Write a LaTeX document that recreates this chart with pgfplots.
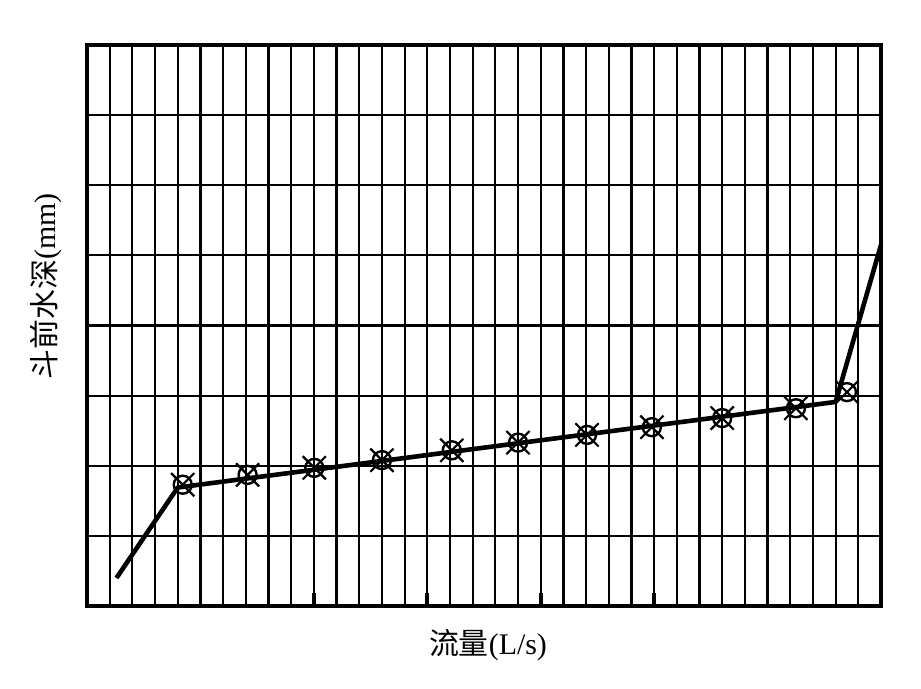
\documentclass[border=0pt]{standalone}
\usepackage{pgfplots}
\pgfplotsset{compat=1.18}
\usepackage{fontspec}
\setmainfont{Liberation Serif}
\newfontfamily\cjk{Noto Sans CJK SC}
\begin{document}
\begin{tikzpicture}
\useasboundingbox (0,0) rectangle (460.5bp,344.5bp);
\begin{axis}[
  at={(43.5bp,41.5bp)}, anchor=south west,
  scale only axis, width=397bp, height=280.5bp,
  xmin=0, xmax=35, ymin=0, ymax=8,
  xtick={0,5,...,35}, minor x tick num=4,
  xticklabels={}, yticklabels={},
  ytick={1,...,7},
  xmajorgrids, xminorgrids, ymajorgrids,
  grid style={black, line width=1.1bp},
  minor grid style={black, line width=1.1bp},
  tick align=inside, xtick pos=bottom, ytick pos=left,
  major tick length=6.5bp, minor tick length=0pt,
  xtick style={black, line width=1.8bp},
  ytick style={draw=none},
  axis line style={black, line width=1.6bp},
  xlabel={{\cjk 流量}(L/s)},
  ylabel={{\cjk 斗前水深}(mm)},
  label style={font=\fontsize{15}{17}\selectfont},
  xlabel style={at={(rel axis cs:0.505,0)}, anchor=north, yshift=-8bp},
  ylabel style={at={(rel axis cs:0,0.57)}, anchor=south, yshift=9bp},
  clip=false,
]
\addplot[black, line width=2.3bp, line join=round] coordinates {
  (1.3,0.40) (4.0,1.69) (33.0,2.91) (35.0,5.15)
};
\addplot[only marks, mark=o, mark size=4.5bp, mark options={line width=1.2bp, black}] coordinates {
  (4.22,1.73) (7.08,1.87) (10.02,1.97) (13.0,2.08) (16.08,2.22) (19.0,2.33)
  (22.04,2.44) (24.9,2.55) (28.0,2.68) (31.25,2.82) (33.5,3.05)
};
\addplot[only marks, mark=x, mark size=8.2bp, mark options={line width=1.1bp, black}] coordinates {
  (4.22,1.73) (7.08,1.87) (10.02,1.97) (13.0,2.08) (16.08,2.22) (19.0,2.33)
  (22.04,2.44) (24.9,2.55) (28.0,2.68) (31.25,2.82) (33.5,3.05)
};
\end{axis}
\end{tikzpicture}
\end{document}
